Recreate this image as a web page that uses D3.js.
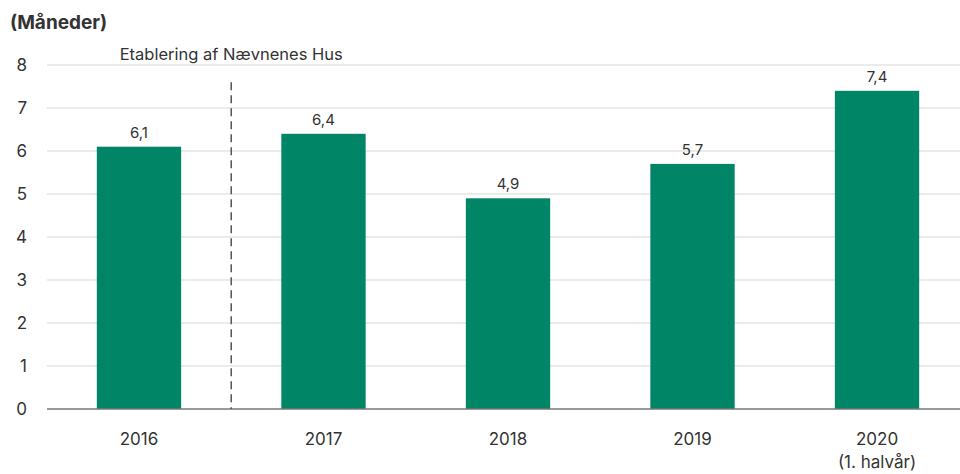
<!DOCTYPE html>
<html>
<head>
<meta charset="utf-8">
<script src="https://cdn.jsdelivr.net/npm/d3@7"></script>
<style>
  body { margin: 0; background: #fff; }
  text { font-family: "Inter", "Noto Sans", sans-serif; fill: #333; }
</style>
</head>
<body>
<div id="chart"></div>
<script>
// data
var years = ["2016", "2017", "2018", "2019", "2020"];
var subLabels = ["", "", "", "", "(1. halvår)"];
var values = [6.1, 6.4, 4.9, 5.7, 7.4];
var yTicks = [0, 1, 2, 3, 4, 5, 6, 7, 8];

var width = 960, height = 474;
var plotLeft = 47, plotRight = 960, plotTop = 65, plotBottom = 409;

var svg = d3.select("#chart")
    .append("svg")
    .attr("width", width)
    .attr("height", height);

var x = d3.scaleBand()
    .domain(years)
    .range([plotLeft, 969])
    .paddingInner(0.543)
    .paddingOuter(0.27);

var y = d3.scaleLinear()
    .domain([0, 8])
    .range([plotBottom, plotTop]);

// gridlines
svg.selectAll("grid")
    .data(yTicks.filter(function(d){ return d > 0 }))
    .enter()
    .append("line")
    .attr("x1", plotLeft).attr("x2", plotRight)
    .attr("y1", function(d){ return y(d) })
    .attr("y2", function(d){ return y(d) })
    .attr("stroke", "#e4e4e4")
    .attr("stroke-width", 1.5);

// y tick labels
svg.selectAll("ylab")
    .data(yTicks)
    .enter()
    .append("text")
    .attr("x", 27)
    .attr("y", function(d){ return y(d) + 6 })
    .attr("text-anchor", "end")
    .style("font-size", "17px")
    .text(function(d){ return d });

// bars
svg.selectAll("bars")
    .data(values)
    .enter()
    .append("rect")
    .attr("x", function(d, i){ return x(years[i]) })
    .attr("width", x.bandwidth())
    .attr("y", function(d){ return y(d) })
    .attr("height", function(d){ return y(0) - y(d) })
    .attr("fill", "#008566");

// value labels
svg.selectAll("vlab")
    .data(values)
    .enter()
    .append("text")
    .attr("x", function(d, i){ return x(years[i]) + x.bandwidth() / 2 })
    .attr("y", function(d){ return y(d) - 9 })
    .attr("text-anchor", "middle")
    .style("font-size", "15px")
    .text(function(d){ return String(d).replace(".", ",") });

// zero line
svg.append("line")
    .attr("x1", plotLeft).attr("x2", plotRight)
    .attr("y1", y(0)).attr("y2", y(0))
    .attr("stroke", "#777")
    .attr("stroke-width", 1.5);

// x labels
svg.selectAll("xlab")
    .data(years)
    .enter()
    .append("text")
    .attr("x", function(d){ return x(d) + x.bandwidth() / 2 })
    .attr("y", 445)
    .attr("text-anchor", "middle")
    .style("font-size", "17px")
    .text(function(d){ return d });

svg.selectAll("xsub")
    .data(subLabels)
    .enter()
    .append("text")
    .attr("x", function(d, i){ return x(years[i]) + x.bandwidth() / 2 })
    .attr("y", 468)
    .attr("text-anchor", "middle")
    .style("font-size", "17px")
    .text(function(d){ return d });

// dashed marker between 2016 and 2017
var mx = (x("2016") + x("2017") + x.bandwidth()) / 2;
svg.append("line")
    .attr("x1", mx).attr("x2", mx)
    .attr("y1", y(7.6)).attr("y2", y(0))
    .attr("stroke", "#555")
    .attr("stroke-width", 1.5)
    .attr("stroke-dasharray", "8,5");

svg.append("text")
    .attr("x", mx)
    .attr("y", 60)
    .attr("text-anchor", "middle")
    .style("font-size", "16.5px")
    .text("Etablering af Nævnenes Hus");

// title
svg.append("text")
    .attr("x", 10)
    .attr("y", 29)
    .style("font-size", "19px")
    .style("font-weight", "bold")
    .text("(Måneder)");
</script>
</body>
</html>
